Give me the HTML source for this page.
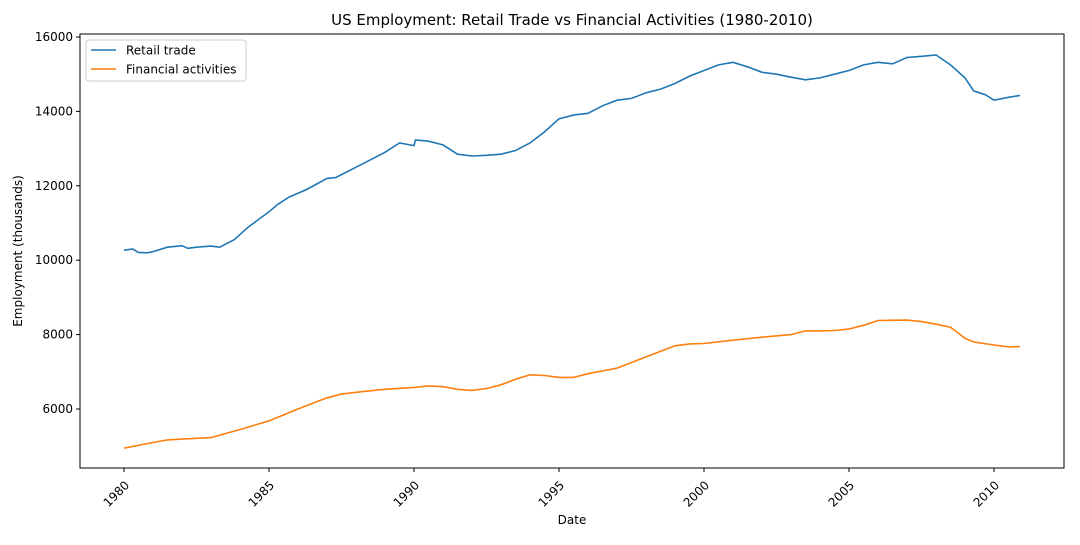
<!DOCTYPE html>
<html><head><meta charset="utf-8"><style>
body{margin:0;background:#fff;}
svg{font-family:"DejaVu Sans","Liberation Sans",sans-serif;}
</style></head><body>
<svg id="s" width="1080" height="540" xmlns="http://www.w3.org/2000/svg">
<rect width="1080" height="540" fill="#fff"/>
<text x="572" y="25" font-size="15" text-anchor="middle">US Employment: Retail Trade vs Financial Activities (1980-2010)</text>
<g id="ax"></g>
<polyline id="r" fill="none" stroke="#1f77b4" stroke-width="1.6"/>
<polyline id="f" fill="none" stroke="#ff7f0e" stroke-width="1.6"/>
<rect x="80" y="34" width="984" height="434" fill="none" stroke="#000" stroke-width="1"/>
<rect x="86" y="40" width="160" height="41" rx="3" fill="#fff" stroke="#ccc" stroke-width="1"/>
<line x1="91" y1="50" x2="116" y2="50" stroke="#1f77b4" stroke-width="1.6"/>
<line x1="91" y1="69" x2="116" y2="69" stroke="#ff7f0e" stroke-width="1.6"/>
<text x="126" y="54.5" font-size="12">Retail trade</text>
<text x="126" y="73.5" font-size="12">Financial activities</text>
<text x="572" y="524" font-size="12" text-anchor="middle">Date</text>
<text transform="translate(22,251) rotate(-90)" font-size="12" text-anchor="middle">Employment (thousands)</text>
</svg>
<script>
var X=function(t){return 124+(t-1980)*29},Y=function(v){return 37+(16000-v)*0.0372};
var ax=document.getElementById('ax'),h='';
for(var v=6000;v<=16000;v+=2000){var y=Y(v);h+='<line x1="76" y1="'+y+'" x2="80" y2="'+y+'" stroke="#000"/><text x="73" y="'+(y+4)+'" font-size="12" text-anchor="end">'+v+'</text>';}
for(var t=1980;t<=2010;t+=5){var x=X(t);h+='<line x1="'+x+'" y1="468" x2="'+x+'" y2="472" stroke="#000"/><text transform="translate('+(x+6)+',486) rotate(-45)" font-size="12" text-anchor="end">'+t+'</text>';}
ax.innerHTML=h;
var R=[[1980,10270],[1980.3,10300],[1980.5,10210],[1980.8,10200],[1981,10230],[1981.5,10350],[1982,10390],[1982.2,10320],[1982.5,10350],[1983,10380],[1983.3,10350],[1983.8,10550],[1984.3,10900],[1985,11300],[1985.3,11500],[1985.7,11700],[1986.3,11900],[1987,12200],[1987.3,12220],[1988,12500],[1988.5,12700],[1989,12900],[1989.5,13150],[1990,13080],[1990.05,13230],[1990.5,13200],[1991,13100],[1991.5,12850],[1992,12800],[1992.5,12820],[1993,12850],[1993.5,12950],[1994,13150],[1994.5,13450],[1995,13800],[1995.5,13900],[1996,13950],[1996.5,14150],[1997,14300],[1997.5,14350],[1998,14500],[1998.5,14600],[1999,14750],[1999.5,14950],[2000,15100],[2000.5,15250],[2001,15320],[2001.5,15200],[2002,15050],[2002.5,15000],[2003,14920],[2003.5,14850],[2004,14900],[2004.5,15000],[2005,15100],[2005.5,15250],[2006,15320],[2006.5,15280],[2007,15450],[2007.5,15480],[2008,15520],[2008.5,15250],[2009,14900],[2009.3,14550],[2009.7,14450],[2010,14300],[2010.5,14380],[2010.9,14430]];
var F=[[1980,4950],[1981,5100],[1981.5,5170],[1982,5190],[1983,5230],[1984,5450],[1985,5680],[1986,6000],[1987,6300],[1987.5,6400],[1988,6450],[1989,6530],[1990,6580],[1990.5,6620],[1991,6600],[1991.5,6530],[1992,6500],[1992.5,6550],[1993,6650],[1993.5,6800],[1994,6920],[1994.5,6900],[1995,6850],[1995.5,6850],[1996,6950],[1997,7100],[1998,7400],[1999,7700],[1999.5,7750],[2000,7760],[2001,7850],[2002,7930],[2003,8000],[2003.5,8100],[2004,8100],[2004.5,8110],[2005,8150],[2005.5,8250],[2006,8380],[2007,8390],[2007.5,8350],[2008,8280],[2008.5,8200],[2009,7900],[2009.3,7800],[2010,7720],[2010.5,7670],[2010.9,7680]];
function p(a){return a.map(function(d){return X(d[0]).toFixed(1)+','+Y(d[1]).toFixed(1)}).join(' ')}
document.getElementById('r').setAttribute('points',p(R));
document.getElementById('f').setAttribute('points',p(F));
</script>
</body></html>
